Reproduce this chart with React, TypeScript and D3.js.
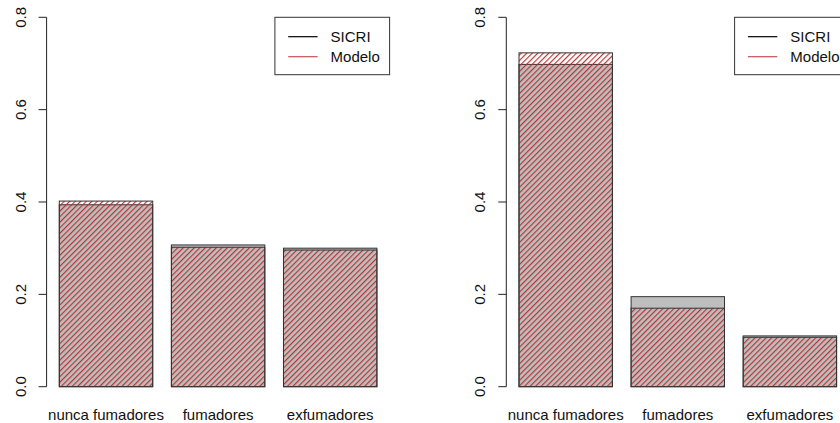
import React from "react";
import * as d3 from "d3";

const categories = ["nunca fumadores", "fumadores", "exfumadores"];
const sicriLeft = [0.394, 0.307, 0.3];
const modeloLeft = [0.402, 0.302, 0.296];
const sicriRight = [0.698, 0.195, 0.11];
const modeloRight = [0.723, 0.17, 0.107];
const yTicks = [0, 0.2, 0.4, 0.6, 0.8];
const legendLabels = ["SICRI", "Modelo"];
const legendColors = ["#000000", "#c85050"];

const W = 840;
const H = 423;
const FONT = "'Liberation Sans', Arial, Helvetica, sans-serif";

function Panel({ offset, sicri, modelo }: { offset: number; sicri: number[]; modelo: number[] }) {
  const x = d3.scaleLinear().domain([0.064, 3.736]).range([46.6 + offset, 389.6 + offset]);
  const y = d3.scaleLinear().domain([0, 0.8]).range([386.7, 17.3]);
  const axisX = x(0.064);
  const right = x(3.736);
  const lgLeft = right - 114.7;
  return (
    <g>
      <line x1={axisX} x2={axisX} y1={y(0)} y2={y(0.8)} stroke="#222" strokeWidth={1} />
      {yTicks.map((t) => (
        <g key={t}>
          <line x1={axisX - 8} x2={axisX} y1={y(t)} y2={y(t)} stroke="#222" strokeWidth={1} />
          <text
            transform={`translate(${axisX - 21},${y(t)}) rotate(-90)`}
            textAnchor="middle"
            fontSize={15}
            fill="#111"
            fontFamily={FONT}
          >
            {t.toFixed(1)}
          </text>
        </g>
      ))}
      {categories.map((c, i) => {
        const x0 = x(i * 1.2 + 0.2);
        const x1 = x(i * 1.2 + 1.2);
        return (
          <g key={c}>
            <rect x={x0} y={y(sicri[i])} width={x1 - x0} height={y(0) - y(sicri[i])} fill="#bebebe" stroke="#333" strokeWidth={1} />
            <rect x={x0} y={y(modelo[i])} width={x1 - x0} height={y(0) - y(modelo[i])} fill="url(#hatch)" stroke="#333" strokeWidth={1} />
            <text x={(x0 + x1) / 2} y={420} textAnchor="middle" fontSize={15} fill="#111" fontFamily={FONT}>
              {c}
            </text>
          </g>
        );
      })}
      <rect x={lgLeft} y={17.3} width={114.7} height={57.4} fill="white" stroke="#333" strokeWidth={1} />
      {legendLabels.map((l, i) => (
        <g key={l}>
          <line x1={lgLeft + 13.3} x2={lgLeft + 42.7} y1={36.7 + i * 20} y2={36.7 + i * 20} stroke={legendColors[i]} strokeWidth={1.2} />
          <text x={lgLeft + 55.7} y={36.7 + i * 20} dy="0.35em" fontSize={15} fill="#111" fontFamily={FONT}>
            {l}
          </text>
        </g>
      ))}
    </g>
  );
}

export default function App() {
  return (
    <svg width={W} height={H} style={{ position: "absolute", left: 0, top: 0, background: "white" }}>
      <defs>
        <pattern id="hatch" patternUnits="userSpaceOnUse" width={3.9} height={3.9} patternTransform="rotate(45)">
          <line x1={0.6} y1={0} x2={0.6} y2={3.9} stroke="#b82a2a" strokeWidth={1.1} />
        </pattern>
      </defs>
      <rect x={0} y={0} width={W} height={H} fill="white" />
      <Panel offset={0} sicri={sicriLeft} modelo={modeloLeft} />
      <Panel offset={459.7} sicri={sicriRight} modelo={modeloRight} />
    </svg>
  );
}
